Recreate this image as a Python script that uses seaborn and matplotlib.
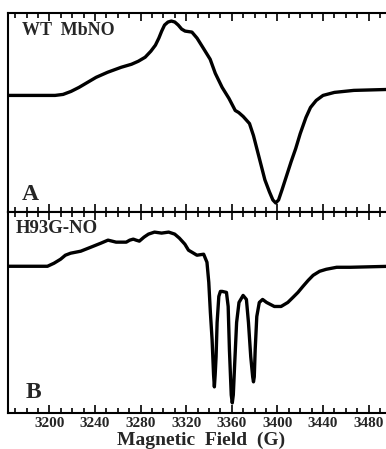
import numpy as np
import pandas as pd
import matplotlib
matplotlib.use("Agg")
import matplotlib.pyplot as plt
import seaborn as sns
from matplotlib.ticker import MultipleLocator

# Panel A: WT MbNO (field in G, signal in arbitrary units)
field_a = [3164, 3190, 3205, 3212, 3219, 3226, 3232, 3241, 3251, 3263, 3272, 3278,
           3284, 3289, 3293, 3296, 3298.5, 3301, 3304, 3307, 3310, 3313, 3316, 3319,
           3325, 3329.5, 3335, 3341, 3345.5, 3351.5, 3357.5, 3363, 3366, 3370, 3375.5,
           3379, 3384, 3389, 3393, 3396, 3398.5, 3401, 3404, 3408, 3412, 3416, 3420,
           3425, 3429, 3434, 3440, 3450, 3467, 3499]
signal_a = [0, 0, 0, 1, 4, 8, 12, 18, 23, 28, 31, 34,
            38, 44, 50, 57, 64, 70, 73, 74, 73, 70, 66, 64,
            63, 57, 47, 36, 22, 8, -3, -15, -17, -21, -28,
            -40, -62, -84, -96, -104, -107, -104, -94, -80, -66, -53, -38,
            -22, -12, -5, 0, 3, 5, 6]

# Panel B: H93G-NO
field_b = [3164, 3180, 3198.3, 3204, 3209.8, 3214, 3218.6, 3227.5, 3236.4, 3245.2,
           3251.4, 3255, 3258.5, 3263, 3267.4, 3270.5, 3273.6, 3276, 3278.9, 3283,
           3286.9, 3292.2, 3298.4, 3304.6, 3309.9, 3314, 3318.8, 3322, 3325, 3329.4,
           3335.3, 3338.2, 3339.8, 3341.2, 3342.7, 3344, 3344.7, 3345.4, 3346.2, 3347.1,
           3348.6, 3350, 3351.5, 3355.3, 3356.8, 3357.9, 3359.5, 3360.4, 3361.3, 3362.4,
           3364.2, 3366.3, 3369.9, 3372.8, 3374.6, 3376.6, 3378.3, 3379.0, 3379.7, 3380.5,
           3381.9, 3384.1, 3387, 3390.5, 3397.3, 3403.2, 3409.1, 3413.6, 3418, 3422.4,
           3427, 3431.3, 3437, 3442.8, 3452, 3464, 3499.5]
signal_b = [0, 0, 0, 3, 7, 11, 13, 15, 19, 23,
            26, 25, 24, 24, 24, 26, 27, 26, 25, 29,
            32, 34, 33, 34, 32, 28, 22, 16, 14, 11,
            12, 4, -16, -46, -73, -108, -120, -108, -90, -56,
            -30, -25, -25, -26, -40, -83, -128, -136, -128, -100,
            -56, -36, -29, -33, -56, -90, -110, -115, -110, -83,
            -50, -36, -33, -36, -40, -40, -36, -31, -26, -20,
            -14, -9, -5, -3, -1, -1, 0]

tick_vals = [3200, 3240, 3280, 3320, 3360, 3400, 3440, 3480]

df_a = pd.DataFrame({"field": field_a, "signal": signal_a})
df_b = pd.DataFrame({"field": field_b, "signal": signal_b})

sns.set_style("ticks")
plt.rcParams["font.family"] = ["Liberation Serif", "DejaVu Serif"]

W, H = 386, 449
fig = plt.figure(figsize=(W / 100, H / 100), dpi=100)
left = 8 / W
ax_a = fig.add_axes([left, 1 - 212 / H, 1.02 - left, (212 - 13) / H])
ax_b = fig.add_axes([left, 1 - 413 / H, 1.02 - left, (413 - 212) / H])

for ax, df in ((ax_a, df_a), (ax_b, df_b)):
    sns.lineplot(data=df, x="field", y="signal", ax=ax, color="black",
                 linewidth=2.4, sort=False, estimator=None)
    ax.lines[0].set_solid_joinstyle("round")
    ax.lines[0].set_solid_capstyle("round")
    ax.set_xlim(3163.7, 3502)
    ax.xaxis.set_major_locator(MultipleLocator(40))
    ax.xaxis.set_minor_locator(MultipleLocator(10))
    ax.tick_params(axis="x", which="both", direction="in", top=True, bottom=True,
                   width=1.2, color="black")
    ax.tick_params(axis="x", which="major", length=6)
    ax.tick_params(axis="x", which="minor", length=3.5)
    ax.set_yticks([])
    ax.set_ylabel("")
    ax.set_xlabel("")
    for s in ("left", "top", "bottom"):
        ax.spines[s].set_linewidth(1.5)
        ax.spines[s].set_color("black")
    ax.spines["right"].set_visible(False)
    ax.set_facecolor("white")

ax_a.set_ylim(-116, 82)
ax_b.set_ylim(-146, 54)
ax_a.tick_params(axis="x", labelbottom=False)
ax_b.set_xticks(tick_vals)
ax_b.set_xticklabels([str(v) for v in tick_vals], fontsize=11, fontweight="bold")
ax_b.tick_params(axis="x", pad=3)
ax_b.set_xlabel("Magnetic  Field  (G)", fontsize=14, fontweight="bold", labelpad=1)

ax_a.text(0.035, 0.91, "WT  MbNO", transform=ax_a.transAxes, fontsize=13,
          fontweight="bold", va="center", ha="left")
ax_a.text(0.035, 0.09, "A", transform=ax_a.transAxes, fontsize=17,
          fontweight="bold", va="center", ha="left")
ax_b.text(0.02, 0.92, "H93G-NO", transform=ax_b.transAxes, fontsize=13.5,
          fontweight="bold", va="center", ha="left")
ax_b.text(0.045, 0.10, "B", transform=ax_b.transAxes, fontsize=17,
          fontweight="bold", va="center", ha="left")

fig.savefig("out.png", dpi=100, facecolor="white")
